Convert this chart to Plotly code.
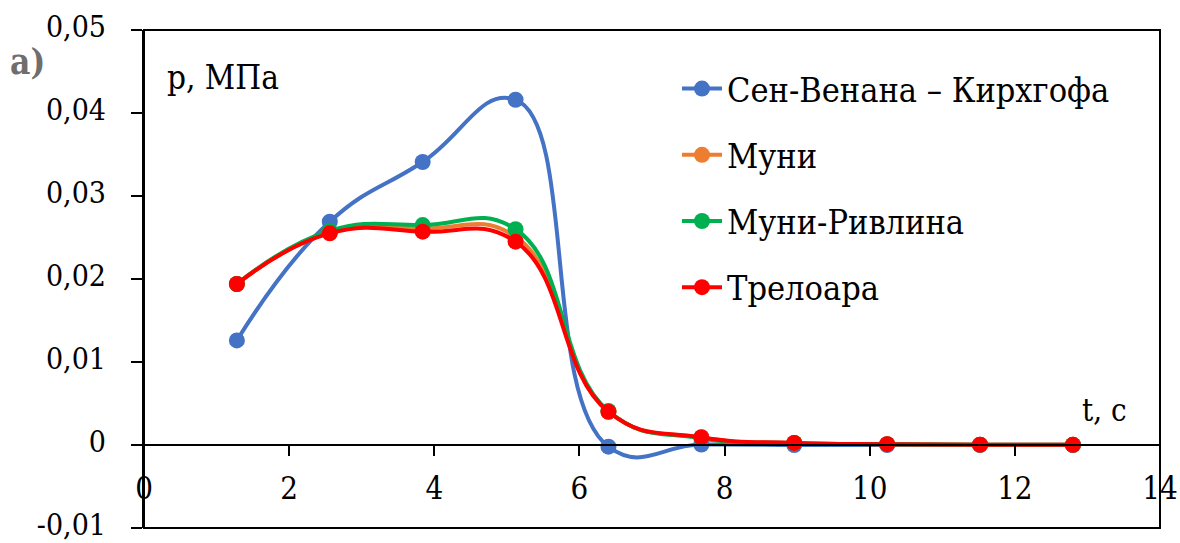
import plotly.graph_objects as go

# Time, s
t = [1.28, 2.56, 3.84, 5.12, 6.4, 7.68, 8.96, 10.24, 11.52, 12.8]

# Pressure, MPa, for each material model
saint_venant = [0.0126, 0.0269, 0.0341, 0.0416, -0.0002, 0.00005, 0.0, 0.0, 0.0, 0.0]
mooney = [0.0194, 0.0256, 0.0261, 0.0251, 0.0040, 0.0009, 0.00025, 0.0001, 0.00004, 0.00002]
mooney_rivlin = [0.0194, 0.0258, 0.0265, 0.0260, 0.0041, 0.0008, 0.00025, 0.0001, 0.00004, 0.00002]
treloar = [0.0194, 0.0255, 0.0257, 0.0245, 0.0040, 0.00093, 0.00025, 0.0001, 0.00004, 0.00002]

series_names = ["Сен-Венана – Кирхгофа", "Муни", "Муни-Ривлина", "Трелоара"]
series_colors = ["#4472C4", "#ED7D31", "#00B050", "#FF0000"]

x_tickvals = [0, 2, 4, 6, 8, 10, 12, 14]
y_tickvals = [-0.01, 0, 0.01, 0.02, 0.03, 0.04, 0.05]
y_ticktext = ["-0,01", "0", "0,01", "0,02", "0,03", "0,04", "0,05"]

W, H = 1180, 543
L, R, T, B = 144, 20, 30, 15
PW, PH = W - L - R, H - T - B


def px(xpix):
    return (xpix - L) / PW


def py(ypix):
    return (H - B - ypix) / PH


FONT = "DejaVu Serif Condensed, DejaVu Serif"

fig = go.Figure()
for name, ys, col in zip(series_names, [saint_venant, mooney, mooney_rivlin, treloar], series_colors):
    fig.add_trace(go.Scatter(
        x=t, y=ys, name=name, legendgroup=name,
        mode="lines+markers",
        line=dict(color=col, width=4, shape="spline", smoothing=1.3),
        marker=dict(color=col, size=16),
    ))

y_min, y_max = -0.01, 0.05
zero_pos = (0 - y_min) / (y_max - y_min)

fig.update_layout(
    width=W, height=H,
    margin=dict(l=L, r=R, t=T, b=B, pad=0, autoexpand=False),
    paper_bgcolor="white", plot_bgcolor="white",
    font=dict(family=FONT, size=31, color="black"),
    showlegend=True,
    legend=dict(
        x=px(677), y=py(60), xanchor="left", yanchor="top",
        bgcolor="rgba(0,0,0,0)", font=dict(family=FONT, size=34, color="black"),
        tracegroupgap=19, itemwidth=40,
    ),
    xaxis=dict(
        range=[0, 14], tickvals=x_tickvals, ticktext=[str(v) for v in x_tickvals],
        anchor="free", position=zero_pos, automargin=False,
        showline=True, linecolor="black", linewidth=2,
        ticks="outside", ticklen=10, tickwidth=2, tickcolor="black",
        showgrid=False, zeroline=False,
        ticklabeloverflow="allow", ticklabelstandoff=6,
        tickfont=dict(family=FONT, size=31, color="black"),
    ),
    yaxis=dict(
        range=[y_min, y_max], tickvals=y_tickvals, ticktext=y_ticktext, automargin=False,
        showline=True, linecolor="black", linewidth=2,
        ticks="outside", ticklen=11, tickwidth=2, tickcolor="black",
        showgrid=False, zeroline=False,
        ticklabelstandoff=19, ticklabelshift=-4, ticklabeloverflow="allow",
        tickfont=dict(family=FONT, size=30, color="black"),
    ),
    shapes=[dict(type="rect", xref="paper", yref="paper", x0=0, x1=1, y0=0, y1=1,
                 line=dict(color="black", width=2), fillcolor="rgba(0,0,0,0)", layer="above")],
    annotations=[
        dict(text="<b>a)</b>", xref="paper", yref="paper", x=px(27), y=py(61),
             xanchor="center", yanchor="middle", showarrow=False,
             font=dict(family=FONT, size=35, color="#6E6E6E")),
        dict(text="p, МПа", xref="paper", yref="paper", x=px(165), y=py(78),
             xanchor="left", yanchor="middle", showarrow=False,
             font=dict(family=FONT, size=33, color="black")),
        dict(text="t, c", xref="paper", yref="paper", x=px(1104), y=py(410),
             xanchor="center", yanchor="middle", showarrow=False,
             font=dict(family=FONT, size=31, color="black")),
    ],
)

fig.write_html("out.html")
